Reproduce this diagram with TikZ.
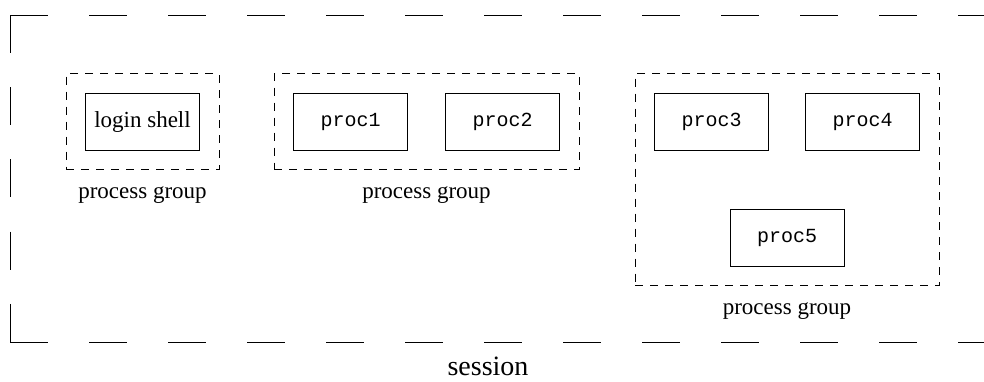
\documentclass[tikz,border=0pt]{standalone}
\usepackage{fontspec}
\setmainfont{Liberation Serif}
\setmonofont{Liberation Mono}
\usetikzlibrary{positioning, fit, calc}

\begin{document}
\begin{tikzpicture}[x=0.5pt, y=-0.5pt,
          node distance=18.5pt and 18.5pt,
          every node/.style={font=\fontsize{11}{13}\selectfont},
          proc/.style={draw, line width=0.5pt, minimum width=57pt, minimum height=28.5pt, inner sep=0pt, font=\fontsize{10}{12}\selectfont\ttfamily},
          shellbox/.style={proc, font=\fontsize{11.5}{13}\selectfont},
          pgroup/.style={draw, line width=0.45pt, dash pattern=on 4pt off 3.5pt, inner sep=9.5pt},
          grouplabel/.style={below=8pt of #1, inner sep=0pt, font=\fontsize{11.5}{13}\selectfont},
          frame/.style={line width=0.5pt, dash pattern=on 19pt off 20.5pt}
      ]
      \useasboundingbox (0,0) rectangle (984,381);

      % Nodes
      \node[shellbox] (login) at (142.5,121.5) {login shell};
      \node[proc, right=46.5pt of login] (proc1) {proc1};
      \node[proc, right=of proc1] (proc2) {proc2};
      \node[proc, right=47pt of proc2] (proc3) {proc3};
      \node[proc, right=18pt of proc3] (proc4) {proc4};
      \coordinate (mid) at ($(proc3.south)!.5!(proc4.south)$);
      \node[proc, below=29pt of mid, anchor=north] (proc5) {proc5};

      % Process groups
      \node[pgroup, fit=(login)] (grp1) {};
      \node[pgroup, fit=(proc1) (proc2)] (grp2) {};
      \node[pgroup, fit=(proc3) (proc4) (proc5)] (grp3) {};
      \node[grouplabel=grp1.south] {process group};
      \node[grouplabel=grp2.south] {process group};
      \node[grouplabel=grp3.south] {process group};

      % Session, open on the right
      \coordinate (tl) at (10,15);
      \coordinate (bl) at (10,342);
      \coordinate (tr) at (984,15);
      \coordinate (br) at (984,342);
      \draw[frame] (tl) -- (tr);
      \draw[frame, dash pattern=on 19pt off 17.1pt] (tl) -- (bl);
      \draw[frame] (bl) -- (br);
      \node[font=\fontsize{14}{16}\selectfont] (session) at (488,366) {session};

      \end{tikzpicture}
\end{document}
